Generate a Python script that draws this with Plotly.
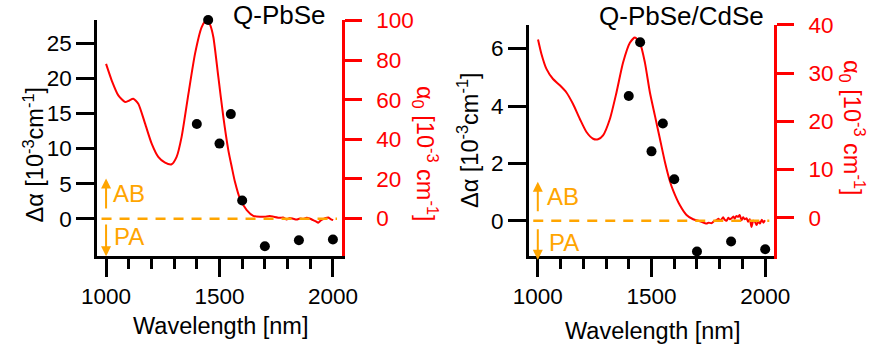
import plotly.graph_objects as go

FONT = "Liberation Sans, Arial, sans-serif"
RED = "#ff0000"
ORANGE = "#ffa500"

# ---- data: Q-PbSe (left) ----
wl_abs_L = [1000, 1025, 1054, 1084, 1100, 1120, 1142, 1172, 1201, 1230, 1260, 1289, 1311, 1333,
            1363, 1392, 1421, 1436, 1448, 1460, 1473, 1495, 1517, 1539, 1554, 1568, 1590, 1620,
            1649, 1679, 1700, 1722, 1740, 1767, 1780, 1796, 1810, 1825, 1840, 1855, 1870, 1884,
            1900, 1913, 1925, 1935, 1945, 1957, 1968, 1979, 1990, 2001]
abs_L = [78.1, 69.7, 62.2, 58.8, 59.5, 60.5, 58.0, 47.9, 37.8, 31.1, 28.2, 27.4, 31.1, 41.2,
         63.0, 83.2, 96.6, 99.5, 100.0, 97.5, 91.6, 71.4, 51.2, 34.4, 26.0, 18.5, 10.0, 4.2,
         1.3, 0.8, 0.9, 1.2, 0.8, 0.3, 0.5, -0.5, 0.2, -0.2, -0.6, 0.0, -0.3, 0.3,
         -0.2, -0.9, -1.5, -2.2, -1.2, -0.4, 0.2, 0.5, -0.3, -0.9]
wl_pts = [1400, 1450, 1500, 1550, 1600, 1700, 1850, 2000]
dA_L = [13.5, 28.3, 10.7, 14.9, 2.6, -3.9, -3.05, -2.95]

# ---- data: Q-PbSe/CdSe (right) ----
wl_abs_R = [1001, 1016, 1038, 1067, 1097, 1126, 1155, 1185, 1214, 1243, 1265, 1287, 1317, 1346,
            1375, 1405, 1427, 1449, 1471, 1493, 1515, 1537, 1559, 1581, 1595, 1625, 1654, 1683,
            1713, 1742, 1750, 1764, 1775, 1786, 1795, 1800, 1808, 1815, 1822, 1830, 1838, 1845,
            1852, 1860, 1866, 1873, 1881, 1888, 1896, 1903, 1910, 1918, 1925, 1932, 1940, 1947,
            1955, 1962, 1970, 1977, 1985, 1992, 1999]
abs_R = [37.0, 34.0, 30.9, 28.8, 27.5, 26.0, 23.6, 20.5, 17.8, 16.4, 16.3, 17.1, 20.5, 26.0,
         32.2, 36.3, 37.4, 36.3, 32.2, 26.0, 21.2, 16.4, 11.6, 7.6, 5.7, 2.6, 0.6, -0.3,
         -0.7, -1.2, -1.0, -1.1, -0.7, -0.5, -0.2, -0.6, -0.3, 0.1, -0.4, -0.6, 0.0, -0.3,
         -0.1, 0.3, -0.2, 0.4, 0.2, 0.6, -0.5, 0.1, -0.3, -0.1, -0.8, -0.3, -1.9, -0.6,
         -0.8, -1.5, -0.7, -1.2, -0.4, -1.0, -0.5]
dA_R = [4.35, 6.22, 2.42, 3.39, 1.45, -1.07, -0.72, -0.99]

# ---- tick labels / ranges ----
x_ticks = [1000, 1500, 2000]
yL_ticks_L = [0, 5, 10, 15, 20, 25]
yR_ticks_L = [0, 20, 40, 60, 80, 100]
yL_ticks_R = [0, 2, 4, 6]
yR_ticks_R = [0, 10, 20, 30, 40]
zero_span = [980, 2018]

fig = go.Figure()

# red absorption curves (base axes, right side)
fig.add_trace(go.Scatter(x=wl_abs_L, y=abs_L, xaxis="x", yaxis="y", mode="lines",
                         line=dict(color=RED, width=2, shape="spline", smoothing=0.6)))
fig.add_trace(go.Scatter(x=wl_abs_R, y=abs_R, xaxis="x2", yaxis="y3", mode="lines",
                         line=dict(color=RED, width=2, shape="spline", smoothing=0.6)))
# zero dashed lines (overlay black axes)
fig.add_trace(go.Scatter(x=zero_span, y=[0, 0], xaxis="x", yaxis="y2", mode="lines",
                         line=dict(color=ORANGE, width=2.5, dash="10px,8px")))
fig.add_trace(go.Scatter(x=zero_span, y=[0, 0], xaxis="x2", yaxis="y4", mode="lines",
                         line=dict(color=ORANGE, width=2.5, dash="10px,8px")))
# black points
fig.add_trace(go.Scatter(x=wl_pts, y=dA_L, xaxis="x", yaxis="y2", mode="markers",
                         cliponaxis=False, marker=dict(color="black", size=10)))
fig.add_trace(go.Scatter(x=wl_pts, y=dA_R, xaxis="x2", yaxis="y4", mode="markers",
                         cliponaxis=False, marker=dict(color="black", size=10)))

LW = 2.5
TICK = 22.5
def xax(domain):
    return dict(domain=domain, range=[960, 2040], tickmode="array", tickvals=x_ticks,
                ticks="outside", ticklen=18, tickwidth=LW, tickcolor="black",
                showline=True, linewidth=LW, linecolor="black", showgrid=False, zeroline=False,
                automargin=False,
                tickfont=dict(family=FONT, size=TICK, color="black"),
                minor=dict(tickmode="linear", tick0=1000, dtick=100, ticks="outside",
                           ticklen=10, tickwidth=LW, tickcolor="black", showgrid=False))

def yblack(rng, tv, anchor, over):
    return dict(range=rng, tickmode="array", tickvals=tv, ticks="outside", ticklen=18,
                tickwidth=LW, tickcolor="black", showline=True, linewidth=LW,
                linecolor="black", showgrid=False, zeroline=False, side="left",
                anchor=anchor, overlaying=over, automargin=False,
                tickfont=dict(family=FONT, size=TICK, color="black"))

def yred(domain, rng, tv, anchor):
    return dict(domain=domain, range=rng, tickmode="array", tickvals=tv, ticks="outside",
                ticklen=17, tickwidth=LW, tickcolor=RED, showline=True, linewidth=LW,
                linecolor=RED, showgrid=False, zeroline=False, side="right", anchor=anchor,
                ticklabelstandoff=10, automargin=False,
                tickfont=dict(family=FONT, size=TICK, color=RED))

fig.update_layout(
    width=872, height=350, autosize=False, showlegend=False,
    margin=dict(l=0, r=0, t=0, b=0, pad=0, autoexpand=False),
    paper_bgcolor="white", plot_bgcolor="rgba(0,0,0,0)",
    xaxis=xax([97 / 872, 342 / 872]),
    xaxis2=xax([528.7 / 872, 774.3 / 872]),
    yaxis=yred([1 - 256 / 350, 1 - 20 / 350], [-19, 100.3], yR_ticks_L, "x"),
    yaxis2=yblack([-5.3, 28.3], yL_ticks_L, "x", "y"),
    yaxis3=yred([1 - 259.3 / 350, 1 - 24.5 / 350], [-8.6, 40.1], yR_ticks_R, "x2"),
    yaxis4=yblack([-1.34, 6.84], yL_ticks_R, "x2", "y3"),
)

ann = []
def txt(x, y, s, size=23.5, color="black", angle=0, xanchor="center", xref="paper", yref="paper"):
    ann.append(dict(x=x, y=y, xref=xref, yref=yref, text=s, showarrow=False, textangle=angle,
                    xanchor=xanchor, yanchor="middle",
                    font=dict(family=FONT, size=size, color=color)))

# panel titles
txt(279 / 872, 1 - 15 / 350, "Q-PbSe", size=26)
txt(681 / 872, 1 - 16 / 350, "Q-PbSe/CdSe", size=26)
# x titles
txt(220 / 872, 1 - 326 / 350, "Wavelength [nm]")
txt(652 / 872, 1 - 331 / 350, "Wavelength [nm]")
# y titles
ytl = "Δα [10<sup>-3</sup>cm<sup>-1</sup>]"
ytr = "α<sub>0</sub> [10<sup>-3</sup> cm<sup>-1</sup>]"
txt(33 / 872, 1 - 154.5 / 350, ytl, angle=-90)
txt(425 / 872, 1 - 154 / 350, ytr, color=RED, angle=90)
txt(468 / 872, 1 - 140 / 350, ytl, angle=-90)
txt(852 / 872, 1 - 128 / 350, ytr, color=RED, angle=90)
# AB / PA labels
txt(1022, 3.63, "AB", size=24, color=ORANGE, xanchor="left", xref="x", yref="y2")
txt(1027, -2.46, "PA", size=24, color=ORANGE, xanchor="left", xref="x", yref="y2")
txt(1031, 0.85, "AB", size=24, color=ORANGE, xanchor="left", xref="x2", yref="y4")
txt(1039, -0.76, "PA", size=24, color=ORANGE, xanchor="left", xref="x2", yref="y4")

# arrows
def arrow(xr, yr, x, y0, y1):
    ann.append(dict(x=x, y=y1, ax=x, ay=y0, xref=xr, yref=yr, axref=xr, ayref=yr,
                    showarrow=True, arrowhead=2, arrowsize=1, arrowwidth=2,
                    arrowcolor=ORANGE, text=""))
arrow("x", "y2", 1000, 1.24, 5.75)
arrow("x", "y2", 1000, -0.6, -5.35)
arrow("x2", "y4", 1000, 0.28, 1.36)
arrow("x2", "y4", 1000, -0.24, -1.36)

fig.update_layout(annotations=ann)
fig.write_html("out.html", config={"displayModeBar": False},
               post_script="document.body.style.margin='0';")
